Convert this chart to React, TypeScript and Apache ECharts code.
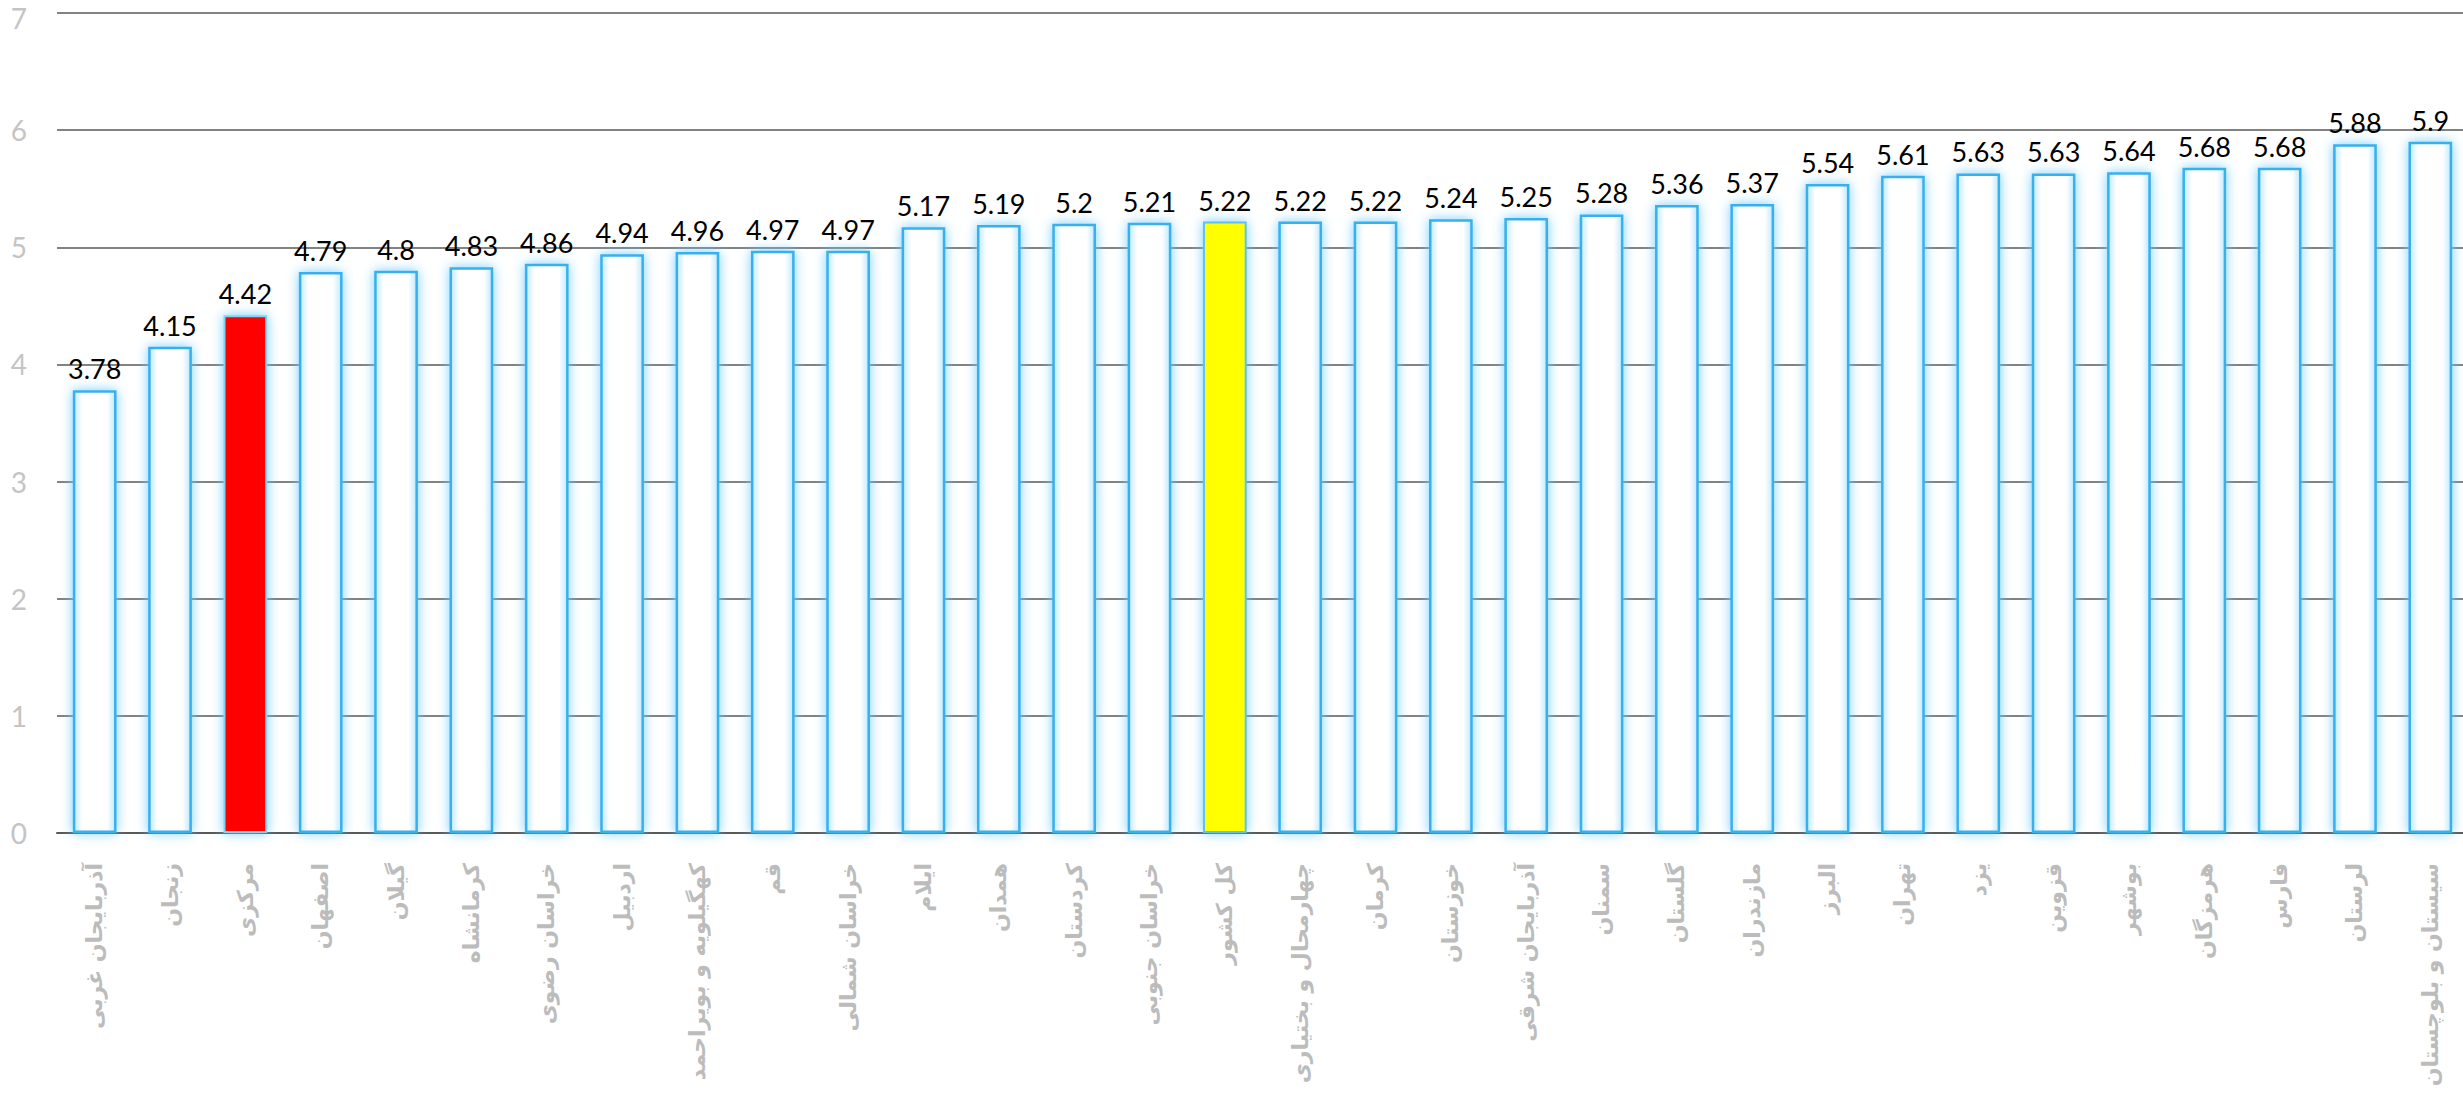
import React, { useEffect, useRef } from "react";
import * as echarts from "echarts";

const provinces: string[] = [
  "آذربایجان غربی", "زنجان", "مرکزی", "اصفهان", "گیلان", "کرمانشاه", "خراسان رضوی", "اردبیل",
  "کهگیلویه و بویراحمد", "قم", "خراسان شمالی", "ایلام", "همدان", "کردستان", "خراسان جنوبی", "کل کشور",
  "چهارمحال و بختیاری", "کرمان", "خوزستان", "آذربایجان شرقی", "سمنان", "گلستان", "مازندران", "البرز",
  "تهران", "یزد", "قزوین", "بوشهر", "هرمزگان", "فارس", "لرستان", "سیستان و بلوچستان",
];

const values: number[] = [
  3.78, 4.15, 4.42, 4.79, 4.8, 4.83, 4.86, 4.94,
  4.96, 4.97, 4.97, 5.17, 5.19, 5.2, 5.21, 5.22,
  5.22, 5.22, 5.24, 5.25, 5.28, 5.36, 5.37, 5.54,
  5.61, 5.63, 5.63, 5.64, 5.68, 5.68, 5.88, 5.9,
];

const highlightRed = "مرکزی";
const highlightYellow = "کل کشور";

const yTicks: number[] = [0, 1, 2, 3, 4, 5, 6, 7];

export default function App() {
  const ref = useRef<HTMLDivElement>(null);

  useEffect(() => {
    if (!ref.current) return;
    const chart = echarts.init(ref.current, undefined, { renderer: "svg" });

    const normalFill = new echarts.graphic.LinearGradient(0, 0, 1, 0, [
      { offset: 0, color: "#bfe9fd" },
      { offset: 0.2, color: "#ffffff" },
      { offset: 0.8, color: "#ffffff" },
      { offset: 1, color: "#bfe9fd" },
    ]);

    const data = values.map((v, i) => {
      const name = provinces[i];
      if (name === highlightRed) {
        return {
          value: v,
          itemStyle: {
            color: "#ff0000",
            borderColor: "#7fd3f7",
            borderWidth: 2,
            shadowBlur: 12,
            shadowColor: "rgba(100,200,250,0.9)",
          },
        };
      }
      if (name === highlightYellow) {
        return {
          value: v,
          itemStyle: {
            color: "#ffff00",
            borderColor: "#63c0ee",
            borderWidth: 2,
            shadowBlur: 12,
            shadowColor: "rgba(100,200,250,0.9)",
          },
        };
      }
      return { value: v };
    });

    chart.setOption({
      animation: false,
      backgroundColor: "#ffffff",
      grid: {
        left: 57,
        right: -5,
        top: 13,
        bottom: 260,
        containLabel: false,
        outerBoundsMode: "none",
      },
      xAxis: {
        type: "category",
        data: provinces,
        axisTick: { show: false },
        axisLine: { show: true, lineStyle: { color: "#595959", width: 2 } },
        axisLabel: {
          interval: 0,
          rotate: 90,
          margin: 30,
          color: "#bcbcbc",
          fontSize: 22,
          fontWeight: "bold",
          fontFamily: "DejaVu Sans",
        },
      },
      yAxis: {
        type: "value",
        min: yTicks[0],
        max: yTicks[yTicks.length - 1],
        interval: 1,
        axisLine: { show: false },
        axisTick: { show: false },
        splitLine: { show: true, lineStyle: { color: "#595959", width: 1.5 } },
        axisLabel: {
          color: "#c4c4c4",
          fontSize: 28,
          margin: 30,
          fontFamily: "Lato",
          formatter: (v: number) => (v === yTicks[yTicks.length - 1] ? `{top|${v}}` : `${v}`),
          rich: {
            top: { fontSize: 28, color: "#c4c4c4", fontFamily: "Lato", padding: [10, 0, 0, 0] },
          },
        },
      },
      series: [
        {
          type: "bar",
          data,
          barCategoryGap: "42%",
          itemStyle: {
            color: normalFill,
            borderColor: "#38b0ec",
            borderWidth: 2.5,
            shadowBlur: 12,
            shadowColor: "rgba(110,205,255,0.95)",
          },
          label: {
            show: true,
            position: "top",
            distance: 8,
            color: "#000000",
            fontSize: 27,
            fontFamily: "Lato",
          },
        },
      ],
    });

    return () => chart.dispose();
  }, []);

  return (
    <div
      ref={ref}
      style={{ position: "fixed", left: 0, top: 0, width: 2463, height: 1093 }}
    />
  );
}
